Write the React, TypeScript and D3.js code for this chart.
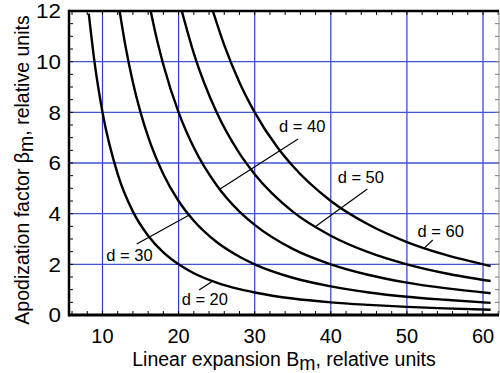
import React from "react";
import * as d3 from "d3";

// Linear expansion B_m values sampled along each curve, with apodization factor beta_m
const curveD20B = [8.2, 9, 10, 12, 14, 16, 18, 20, 22, 25, 28, 30, 35, 40, 45, 50, 55, 61];
const curveD20Beta = [11.9, 9.88, 8.0, 5.56, 4.08, 3.13, 2.47, 2.0, 1.65, 1.28, 1.02, 0.89, 0.65, 0.5, 0.4, 0.32, 0.26, 0.21];
const curveD30B = [12.2, 13, 14, 15, 16, 18, 20, 22, 25, 28, 30, 35, 40, 45, 50, 55, 61];
const curveD30Beta = [12.1, 10.65, 9.18, 8.0, 7.03, 5.56, 4.5, 3.72, 2.88, 2.3, 2.0, 1.47, 1.13, 0.89, 0.72, 0.6, 0.48];
const curveD40B = [16.3, 17, 18, 20, 22, 25, 28, 30, 35, 40, 45, 50, 55, 61];
const curveD40Beta = [12.05, 11.07, 9.88, 8.0, 6.61, 5.12, 4.08, 3.56, 2.61, 2.0, 1.58, 1.28, 1.06, 0.86];
const curveD50B = [20.4, 22, 25, 28, 30, 35, 40, 45, 50, 55, 61];
const curveD50Beta = [12.02, 10.33, 8.0, 6.38, 5.56, 4.08, 3.13, 2.47, 2.0, 1.65, 1.34];
const curveD60B = [24.5, 26, 28, 30, 33, 35, 40, 45, 50, 55, 61];
const curveD60Beta = [12.0, 10.65, 9.18, 8.0, 6.61, 5.88, 4.5, 3.56, 2.88, 2.38, 1.93];

const xTicks = [10, 20, 30, 40, 50, 60];
const yTicks = [0, 2, 4, 6, 8, 10, 12];

// Annotation labels: text, text anchor (B, beta), leader from (B, beta) to (B, beta)
const labelTexts = ["d = 20", "d = 30", "d = 40", "d = 50", "d = 60"];
const labelAt = [[20.4, 0.39], [10.5, 2.13], [33.2, 7.22], [40.9, 5.21], [51.4, 3.08]];
const leaderFrom = [[22.7, 0.99], [14.5, 2.8], [35.7, 6.95], [44.8, 4.97], [53.4, 2.96]];
const leaderTo = [[24.5, 1.34], [21.4, 3.95], [25.4, 4.96], [37.9, 3.47], [52.3, 2.65]];

const FONT = "Liberation Sans, Arial, Helvetica, sans-serif";

export default function App() {
  const left = 69, right = 499, top = 11, bottom = 315;
  const x = d3.scaleLinear().domain([5.6, 62.1]).range([left, right]);
  const y = d3.scaleLinear().domain([0, 12]).range([bottom, top]);

  const curves = [
    [curveD20B, curveD20Beta],
    [curveD30B, curveD30Beta],
    [curveD40B, curveD40Beta],
    [curveD50B, curveD50Beta],
    [curveD60B, curveD60Beta],
  ];
  const line = d3
    .line<[number, number]>()
    .x((d) => x(d[0]))
    .y((d) => y(d[1]))
    .curve(d3.curveMonotoneX);

  const xMinor = d3.range(6, 62.1, 2);
  const yMinor = d3.range(0.5, 12, 0.5);

  return (
    <svg
      width={500}
      height={373}
      style={{ position: "fixed", left: 0, top: 0, background: "#fff" }}
      fontFamily={FONT}
    >
      <defs>
        <clipPath id="plot">
          <rect x={left} y={top} width={right - left} height={bottom - top} />
        </clipPath>
      </defs>
      <rect x={0} y={0} width={500} height={373} fill="#fff" />
      {/* grid */}
      {xTicks.map((t) => (
        <line key={"gx" + t} x1={x(t)} x2={x(t)} y1={top} y2={bottom} stroke="#2a3fd0" strokeWidth={1.2} />
      ))}
      {yTicks.filter((t) => t > 0 && t < 12).map((t) => (
        <line key={"gy" + t} x1={left} x2={right} y1={y(t)} y2={y(t)} stroke="#3f55d4" strokeWidth={1.4} />
      ))}
      {/* minor ticks */}
      {xMinor.map((t) => (
        <g key={"mx" + t}>
          <line x1={x(t)} x2={x(t)} y1={bottom} y2={bottom - 4} stroke="#000" strokeWidth={1} />
          <line x1={x(t)} x2={x(t)} y1={top} y2={top + 4} stroke="#000" strokeWidth={1} />
        </g>
      ))}
      {yMinor.map((t) => (
        <g key={"my" + t}>
          <line x1={left} x2={left + 4} y1={y(t)} y2={y(t)} stroke="#000" strokeWidth={1} />
          <line x1={right} x2={right - 4} y1={y(t)} y2={y(t)} stroke="#777" strokeWidth={1} />
        </g>
      ))}
      {/* curves */}
      <g clipPath="url(#plot)">
        {curves.map(([bs, vs], i) => (
          <path
            key={"c" + i}
            d={line(bs.map((b, j) => [b, vs[j]] as [number, number])) || ""}
            fill="none"
            stroke="#000"
            strokeWidth={2.4}
          />
        ))}
      </g>
      {/* leaders and labels */}
      {labelTexts.map((t, i) => (
        <g key={"l" + i}>
          <line
            x1={x(leaderFrom[i][0])}
            y1={y(leaderFrom[i][1])}
            x2={x(leaderTo[i][0])}
            y2={y(leaderTo[i][1])}
            stroke="#000"
            strokeWidth={1.2}
          />
          <text x={x(labelAt[i][0])} y={y(labelAt[i][1])} fontSize={16.5} fill="#000">
            {t}
          </text>
        </g>
      ))}
      {/* frame */}
      <line x1={right} x2={right} y1={top} y2={bottom} stroke="#888" strokeWidth={1} />
      <line x1={left} x2={right} y1={top} y2={top} stroke="#000" strokeWidth={2.5} />
      <line x1={left} x2={left} y1={top - 1.2} y2={bottom + 1.5} stroke="#000" strokeWidth={2.5} />
      <line x1={left} x2={right} y1={bottom} y2={bottom} stroke="#000" strokeWidth={3} />
      {/* tick labels */}
      {xTicks.map((t) => (
        <text key={"tx" + t} x={x(t)} y={343} fontSize={20} textAnchor="middle" fill="#000">
          {t}
        </text>
      ))}
      {yTicks.map((t) => (
        <text key={"ty" + t} x={61} y={y(t)} dy="0.36em" fontSize={20} textAnchor="end" fill="#000" transform={`translate(61,0) scale(1.12,1) translate(-61,0)`}>
          {t}
        </text>
      ))}
      {/* axis titles */}
      <text x={284} y={366} fontSize={19.5} textAnchor="middle" fill="#000">
        Linear expansion B<tspan dy={4}>m</tspan>
        <tspan dy={-4}>, relative units</tspan>
      </text>
      <text transform="translate(29,170) rotate(-90)" fontSize={19.5} textAnchor="middle" fill="#000">
        Apodization factor β<tspan dy={4}>m</tspan>
        <tspan dy={-4}>, relative units</tspan>
      </text>
    </svg>
  );
}
